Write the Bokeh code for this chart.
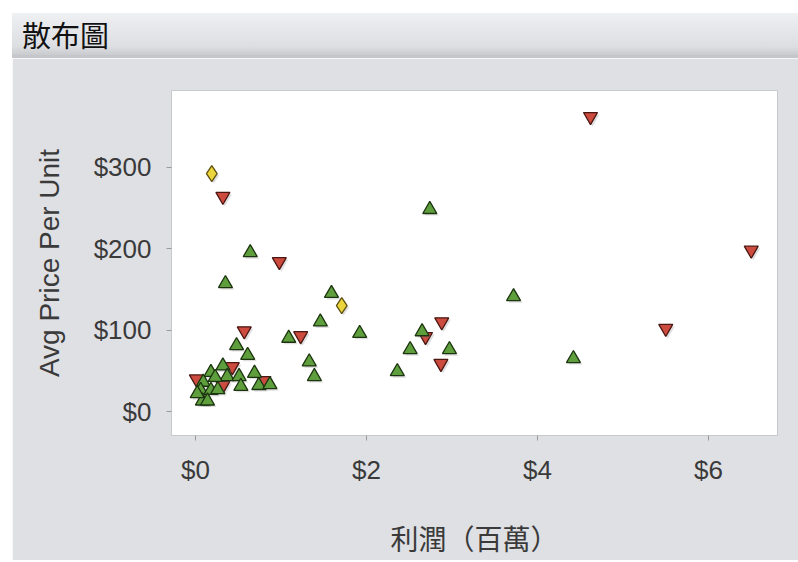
from bokeh.plotting import figure
from bokeh.models import Div, FixedTicker, NumeralTickFormatter, ColumnDataSource, Range1d
from bokeh.layouts import column
from bokeh.embed import file_html
from bokeh.resources import INLINE

# ---- data (profit in $M, avg price per unit in $) ----
green_x = [2.74, 0.64, 0.35, 1.59, 1.46, 1.09, 1.92, 0.48, 0.61, 1.33, 1.39, 2.51, 2.36, 2.65,
           2.97, 3.72, 4.42, 0.32, 0.18, 0.37, 0.51, 0.69, 0.53, 0.74, 0.87, 0.09, 0.06, 0.18,
           0.26, 0.08, 0.14, 0.02, 0.23]
green_y = [248, 195, 157, 145, 110, 90, 96, 81, 69, 61, 43, 76, 49, 98,
           76, 141, 65, 56, 48, 43, 43, 47, 31, 32, 33, 36, 26, 26,
           27, 13, 13, 22, 42]
red_x = [4.62, 6.50, 5.50, 0.32, 0.98, 0.57, 1.23, 2.88, 2.69, 2.87, 0.43, 0.01, 0.80, 0.32]
red_y = [362, 198, 102, 264, 184, 99, 93, 110, 92, 59, 55, 40, 38, 32]
yellow_x = [0.19, 1.71]
yellow_y = [292, 130]

x_ticks = [0, 2, 4, 6]
y_ticks = [0, 100, 200, 300]
title_text = "散布圖"
x_label = "利潤（百萬）"
y_label = "Avg Price Per Unit"

PANEL = "#dfe0e4"
W = 786

title_div = Div(
    text=('<div style="width:%dpx;height:45px;box-sizing:border-box;'
          'background:linear-gradient(#eff0f2,#dcdee2 80%%,#c9cbcf);'
          'border-bottom:3px solid #c4c6ca;'
          'font-family:\'Noto Sans CJK TC\';font-size:29px;line-height:42px;'
          'padding-left:10px;color:#111;">%s</div>') % (W, title_text),
    width=W, height=45, margin=0,
)

p = figure(
    output_backend="svg", toolbar_location=None,
    frame_width=606, frame_height=345,
    min_border_left=159, min_border_right=21, min_border_top=32, min_border_bottom=100,
    x_range=Range1d(-0.281, 6.807), y_range=Range1d(-29.4, 394),
    background_fill_color="white", border_fill_color=PANEL,
    outline_line_color="#c8c9cc", margin=0,
)
p.grid.visible = False

# subtle drop shadow offsets in data units (~2px)
dx = 2 / 85.5
dy = -2 / 0.815

def add_series(xs, ys, marker, size, fill, line):
    src = ColumnDataSource(dict(x=xs, y=ys))
    sh = ColumnDataSource(dict(x=[v + dx for v in xs], y=[v + dy for v in ys]))
    p.scatter("x", "y", source=sh, marker=marker, size=size, fill_color="#808080",
              fill_alpha=0.25, line_color=None)
    p.scatter("x", "y", source=src, marker=marker, size=size, fill_color=fill,
              line_color=line, line_width=1.3)

add_series(red_x, red_y, "inverted_triangle", 14, "#cc4a3e", "#4a1712")
add_series(green_x, green_y, "triangle", 14, "#5e9e3c", "#1c3510")
add_series(yellow_x, yellow_y, "diamond", 16, "#ecd43c", "#5e5010")

for ax in (p.xaxis[0], p.yaxis[0]):
    ax.major_label_text_font = "Liberation Sans"
    ax.major_label_text_font_size = "26px"
    ax.major_label_text_color = "#3a3a3a"
    ax.axis_line_color = "#c8c9cc"
    ax.major_tick_line_color = "#9a9a9a"
    ax.major_tick_out = 5
    ax.major_tick_in = 0
    ax.minor_tick_line_color = None
    ax.axis_label_text_font_style = "normal"
    ax.axis_label_text_color = "#3a3a3a"
    ax.formatter = NumeralTickFormatter(format="$0")

p.xaxis.ticker = FixedTicker(ticks=x_ticks)
p.yaxis.ticker = FixedTicker(ticks=y_ticks)
p.xaxis.axis_label = x_label
p.xaxis.axis_label_text_font = "Noto Sans CJK TC"
p.xaxis.axis_label_text_font_size = "28px"
p.xaxis.major_label_standoff = 14
p.xaxis.axis_label_standoff = 30
p.yaxis.axis_label = y_label
p.yaxis.axis_label_text_font = "Liberation Sans"
p.yaxis.axis_label_text_font_size = "28px"
p.yaxis.major_label_standoff = 15
p.yaxis.axis_label_standoff = 26

layout = column(title_div, p, spacing=0, margin=(13, 0, 0, 12))

open("out.html", "w").write(file_html(layout, INLINE))
